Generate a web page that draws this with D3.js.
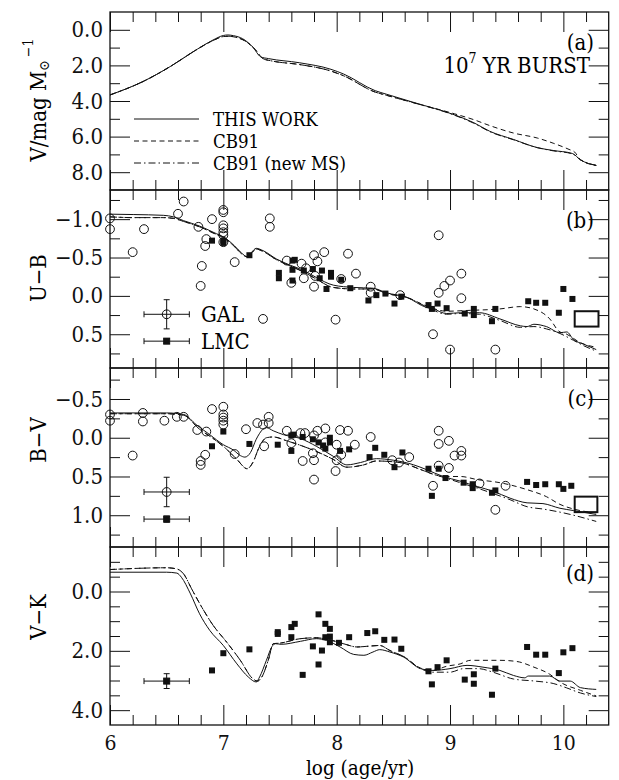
<!DOCTYPE html>
<html><head><meta charset="utf-8">
<script src="https://cdn.jsdelivr.net/npm/d3@7"></script>
<style>body{margin:0;background:#fff}</style>
</head><body>
<svg id="c" width="619" height="780"></svg>
<script>
// ---------------- DATA ----------------
const xTickLabels = [6, 7, 8, 9, 10];
const legendNames = ["THIS WORK", "CB91", "CB91 (new MS)"];

// panel (a): V / mag per solar mass
const aThis = [[6.0,3.66],[6.29,2.91],[6.53,2.07],[6.77,1.09],[6.91,0.57],[7.0,0.32],[7.04,0.29],[7.09,0.33],[7.17,0.50],[7.26,0.97],[7.33,1.52],[7.40,1.62],[7.67,1.85],[7.95,2.22],[8.06,2.48],[8.34,3.42],[8.44,3.62],[8.69,4.10],[9.04,4.78],[9.21,5.22],[9.35,5.70],[9.56,6.16],[9.77,6.62],[9.91,6.78],[10.08,6.95],[10.15,7.30],[10.29,7.62]];
const aCB91 = [[6.0,3.66],[6.29,2.91],[6.53,2.07],[6.77,1.09],[6.91,0.60],[7.0,0.38],[7.05,0.36],[7.11,0.42],[7.19,0.62],[7.28,1.10],[7.35,1.62],[7.42,1.74],[7.67,1.95],[7.95,2.32],[8.06,2.58],[8.34,3.50],[8.44,3.68],[8.69,4.12],[9.04,4.72],[9.21,5.05],[9.35,5.38],[9.56,5.80],[9.77,6.08],[9.91,6.37],[10.05,6.72],[10.10,6.87],[10.15,7.30],[10.29,7.62]];
const aNewMS = [[6.0,3.66],[6.29,2.91],[6.53,2.07],[6.77,1.09],[6.91,0.60],[7.0,0.38],[7.05,0.36],[7.11,0.42],[7.19,0.62],[7.28,1.10],[7.35,1.62],[7.42,1.74],[7.67,1.95],[7.95,2.32],[8.06,2.58],[8.34,3.50],[8.44,3.68],[8.69,4.12],[9.04,4.80],[9.21,5.25],[9.35,5.72],[9.56,6.18],[9.77,6.62],[9.91,6.80],[10.08,6.97],[10.15,7.30],[10.29,7.62]];

// panel (b): U-B
const bThis = [[6.0,-1.065],[6.21,-1.06],[6.47,-1.05],[6.56,-1.03],[6.65,-0.98],[6.79,-0.91],[6.91,-0.83],[7.03,-0.74],[7.10,-0.65],[7.16,-0.56],[7.21,-0.51],[7.25,-0.57],[7.29,-0.62],[7.35,-0.59],[7.47,-0.48],[7.59,-0.40],[7.71,-0.33],[7.82,-0.24],[7.97,-0.14],[8.15,-0.11],[8.32,-0.10],[8.44,-0.04],[8.62,0.02],[8.79,0.15],[8.85,0.17],[8.97,0.23],[9.09,0.22],[9.26,0.22],[9.44,0.30],[9.62,0.39],[9.68,0.40],[9.74,0.37],[9.85,0.40],[9.97,0.48],[10.03,0.47],[10.09,0.57],[10.18,0.63],[10.29,0.70]];
const bCB91 = [[6.0,-1.03],[6.21,-1.02],[6.47,-1.02],[6.56,-1.01],[6.65,-0.97],[6.79,-0.90],[6.91,-0.82],[7.03,-0.73],[7.10,-0.64],[7.16,-0.55],[7.21,-0.51],[7.25,-0.56],[7.29,-0.61],[7.35,-0.58],[7.47,-0.47],[7.59,-0.39],[7.71,-0.31],[7.82,-0.22],[7.97,-0.11],[8.15,-0.09],[8.32,-0.09],[8.44,-0.03],[8.62,0.02],[8.79,0.13],[8.97,0.20],[9.15,0.19],[9.44,0.17],[9.62,0.14],[9.79,0.20],[9.88,0.30],[9.96,0.46],[10.03,0.50],[10.15,0.61],[10.29,0.67]];
const bNewMS = [[6.0,-1.03],[6.21,-1.02],[6.47,-1.02],[6.56,-1.01],[6.65,-0.97],[6.79,-0.90],[6.91,-0.82],[7.03,-0.73],[7.10,-0.64],[7.16,-0.55],[7.21,-0.51],[7.25,-0.56],[7.29,-0.61],[7.35,-0.58],[7.47,-0.47],[7.59,-0.39],[7.71,-0.31],[7.82,-0.22],[7.97,-0.11],[8.15,-0.09],[8.32,-0.09],[8.44,-0.03],[8.62,0.02],[8.79,0.14],[8.97,0.24],[9.09,0.23],[9.26,0.24],[9.44,0.32],[9.62,0.41],[9.74,0.40],[9.85,0.43],[9.97,0.49],[10.09,0.58],[10.18,0.65],[10.29,0.72]];
const bGal = [[6.0,-1.01],[6.0,-0.87],[6.20,-0.57],[6.30,-0.87],[6.60,-1.07],[6.65,-1.23],[6.78,-0.90],[6.90,-1.0],[6.85,-0.74],[6.84,-0.65],[6.81,-0.39],[6.80,-0.13],[7.0,-1.12],[7.0,-1.09],[7.0,-0.92],[7.0,-0.88],[7.0,-0.83],[7.0,-0.79],[7.0,-0.70],[7.10,-0.44],[7.41,-1.01],[7.41,-0.90],[7.35,0.30],[7.56,-0.46],[7.60,-0.17],[7.69,-0.42],[7.71,-0.23],[7.73,-0.36],[7.80,-0.53],[7.83,-0.45],[7.89,-0.57],[7.80,-0.12],[7.81,-0.26],[7.99,0.31],[8.10,-0.55],[8.17,-0.29],[8.04,-0.22],[8.30,-0.12],[8.30,-0.04],[8.56,-0.01],[8.90,-0.79],[8.85,0.50],[8.90,-0.04],[8.95,-0.13],[9.0,-0.20],[9.10,-0.29],[9.10,0.03],[9.0,0.70],[9.40,0.70]];
const bLmc = [[6.90,-0.72],[7.0,-0.72],[7.0,-0.69],[7.23,-0.53],[7.49,-0.30],[7.49,-0.23],[7.61,-0.46],[7.63,-0.47],[7.61,-0.34],[7.61,-0.20],[7.71,-0.33],[7.79,-0.35],[7.85,-0.23],[7.87,-0.33],[7.95,-0.30],[7.95,-0.25],[7.91,-0.09],[8.04,-0.21],[8.12,-0.10],[8.28,0.06],[8.35,-0.01],[8.43,-0.03],[8.51,0.10],[8.57,0.01],[8.81,0.12],[8.84,0.17],[8.89,0.10],[8.97,0.16],[9.13,0.23],[9.21,0.17],[9.21,0.25],[9.37,0.33],[9.40,0.17],[9.69,0.07],[9.76,0.09],[9.84,0.09],[9.96,0.22],[10.0,-0.09],[10.08,0.04]];
const bBox = [10.10, 10.31, 0.20, 0.40];
// error bars: [x, y, xerr, yerr, kind]
const bErr = [[6.5,0.24,0.2,0.19,"gal"],[6.5,0.59,0.2,0.03,"lmc"]];

// panel (c): B-V
const cThis = [[6.0,-0.32],[6.5,-0.32],[6.65,-0.30],[6.76,-0.17],[6.88,-0.04],[7.0,0.09],[7.09,0.16],[7.15,0.23],[7.19,0.25],[7.24,0.19],[7.29,0.02],[7.35,-0.11],[7.38,-0.13],[7.44,-0.09],[7.53,-0.04],[7.68,0.01],[7.82,0.11],[7.97,0.24],[8.09,0.35],[8.21,0.32],[8.35,0.27],[8.50,0.29],[8.68,0.35],[8.79,0.41],[8.94,0.50],[9.09,0.56],[9.24,0.63],[9.38,0.69],[9.53,0.78],[9.68,0.84],[9.82,0.85],[9.97,0.91],[10.09,0.94],[10.29,0.99]];
const cCB91 = [[6.0,-0.31],[6.5,-0.31],[6.65,-0.29],[6.79,-0.11],[6.91,0.01],[7.03,0.15],[7.12,0.28],[7.21,0.40],[7.26,0.32],[7.32,0.11],[7.38,0.00],[7.44,-0.01],[7.56,0.04],[7.74,0.13],[7.97,0.28],[8.09,0.38],[8.24,0.35],[8.35,0.30],[8.56,0.32],[8.74,0.41],[8.85,0.47],[8.94,0.50],[9.09,0.50],[9.24,0.54],[9.44,0.58],[9.68,0.67],[9.85,0.76],[9.97,0.86],[10.09,0.92],[10.29,0.97]];
const cNewMS = [[6.0,-0.31],[6.5,-0.31],[6.65,-0.29],[6.79,-0.11],[6.91,0.01],[7.03,0.15],[7.12,0.28],[7.21,0.40],[7.26,0.32],[7.32,0.11],[7.38,0.00],[7.44,-0.01],[7.56,0.04],[7.74,0.13],[7.97,0.28],[8.09,0.38],[8.24,0.35],[8.35,0.30],[8.56,0.32],[8.74,0.41],[8.85,0.47],[8.94,0.51],[9.09,0.58],[9.24,0.65],[9.38,0.72],[9.53,0.80],[9.68,0.89],[9.82,0.92],[9.97,0.96],[10.09,1.0],[10.29,1.08]];
const cGal = [[6.0,-0.30],[6.0,-0.22],[6.20,0.23],[6.29,-0.32],[6.29,-0.21],[6.48,-0.22],[6.59,-0.27],[6.65,-0.27],[6.77,-0.10],[6.85,-0.08],[6.80,0.30],[6.80,0.35],[6.84,0.22],[6.90,-0.37],[7.0,-0.40],[7.0,-0.30],[7.0,-0.26],[7.0,-0.22],[7.0,-0.17],[7.10,0.21],[7.20,-0.11],[7.30,-0.19],[7.35,-0.17],[7.40,-0.27],[7.40,-0.19],[7.36,0.11],[7.56,-0.09],[7.60,0.07],[7.68,-0.06],[7.70,0.30],[7.72,-0.06],[7.80,-0.03],[7.83,-0.09],[7.90,-0.12],[7.79,0.20],[7.80,0.29],[7.80,0.54],[7.90,0.06],[8.0,0.09],[8.0,0.29],[7.99,0.43],[8.03,-0.10],[8.10,-0.09],[8.04,0.22],[8.16,0.09],[8.30,-0.01],[8.49,0.29],[8.55,0.32],[8.64,0.25],[8.90,-0.09],[8.90,0.08],[8.99,0.04],[9.04,0.23],[9.10,0.17],[9.10,0.23],[8.90,0.36],[8.99,0.39],[8.85,0.62],[9.26,0.59],[9.40,0.93],[9.49,0.62]];
const cLmc = [[6.90,0.11],[7.0,-0.08],[7.23,0.08],[7.48,0.09],[7.60,0.17],[7.60,-0.03],[7.62,-0.04],[7.70,-0.01],[7.79,0.02],[7.84,0.06],[7.88,0.10],[7.90,0.14],[7.94,0.00],[7.94,0.06],[8.03,0.17],[8.11,0.15],[8.29,0.25],[8.34,0.13],[8.42,0.22],[8.51,0.38],[8.58,0.19],[8.81,0.40],[8.90,0.40],[8.96,0.52],[8.84,0.75],[9.12,0.58],[9.20,0.60],[9.20,0.65],[9.37,0.71],[9.40,0.68],[9.68,0.57],[9.76,0.61],[9.84,0.60],[9.96,0.60],[10.0,0.66],[10.07,0.62]];
const cBox = [10.10, 10.30, 0.76, 0.96];
const cErr = [[6.5,0.70,0.2,0.19,"gal"],[6.5,1.05,0.2,0.04,"lmc"]];

// panel (d): V-K
const dThis = [[6.0,-0.65],[6.5,-0.65],[6.59,-0.62],[6.63,-0.48],[6.71,0.08],[6.79,0.75],[6.88,1.31],[7.0,1.82],[7.12,2.44],[7.22,2.88],[7.29,3.05],[7.32,2.88],[7.38,2.32],[7.43,1.85],[7.46,1.76],[7.51,1.78],[7.68,1.68],[7.82,1.59],[7.91,1.65],[8.03,1.87],[8.15,2.12],[8.24,2.15],[8.32,2.04],[8.38,1.96],[8.47,2.04],[8.59,2.21],[8.74,2.60],[8.85,2.66],[9.0,2.60],[9.15,2.49],[9.29,2.55],[9.44,2.66],[9.56,2.83],[9.66,2.91],[9.69,2.85],[9.88,2.85],[9.97,3.02],[10.06,3.02],[10.15,3.24],[10.29,3.30]];
const dCB91 = [[6.0,-0.74],[6.5,-0.80],[6.59,-0.76],[6.65,-0.59],[6.72,-0.09],[6.81,0.53],[6.91,1.14],[7.03,1.71],[7.15,2.32],[7.26,2.94],[7.30,3.02],[7.34,2.88],[7.40,2.27],[7.44,1.76],[7.50,1.74],[7.68,1.59],[7.82,1.56],[7.94,1.63],[8.06,1.76],[8.18,1.87],[8.26,1.85],[8.38,1.82],[8.47,1.99],[8.59,2.19],[8.74,2.58],[8.85,2.66],[8.97,2.52],[9.09,2.44],[9.18,2.32],[9.44,2.32],[9.59,2.36],[9.74,2.55],[9.88,2.79],[9.97,3.05],[10.15,3.33],[10.29,3.52]];
const dNewMS = [[6.0,-0.74],[6.5,-0.80],[6.59,-0.76],[6.65,-0.59],[6.72,-0.09],[6.81,0.53],[6.91,1.14],[7.03,1.71],[7.15,2.32],[7.26,2.94],[7.30,3.02],[7.34,2.88],[7.40,2.27],[7.44,1.76],[7.50,1.74],[7.68,1.59],[7.82,1.56],[7.94,1.63],[8.06,1.76],[8.18,1.87],[8.26,1.85],[8.38,1.82],[8.47,1.99],[8.59,2.19],[8.74,2.60],[8.85,2.72],[9.0,2.72],[9.12,2.60],[9.25,2.60],[9.38,2.72],[9.56,2.95],[9.75,3.02],[9.91,3.10],[10.03,3.25],[10.15,3.42],[10.29,3.54]];
const dLmc = [[6.90,2.66],[7.0,2.08],[7.23,1.95],[7.48,1.43],[7.48,1.37],[7.60,1.20],[7.60,1.54],[7.63,1.09],[7.70,2.81],[7.79,1.85],[7.84,0.77],[7.84,2.46],[7.87,1.99],[7.90,1.09],[7.94,1.26],[7.90,1.54],[7.94,1.52],[7.94,1.71],[8.02,1.73],[8.11,1.54],[8.27,1.40],[8.34,1.34],[8.42,1.63],[8.51,1.62],[8.57,1.93],[8.81,2.69],[8.84,3.13],[8.89,2.55],[8.97,2.32],[9.13,2.97],[9.21,2.79],[9.21,3.11],[9.37,3.48],[9.40,2.60],[9.68,1.87],[9.76,2.13],[9.84,2.13],[9.96,2.75],[10.0,2.05],[10.08,1.91]];
const dErr = [[6.5,3.02,0.2,0.25,"lmc"]];

// ---------------- DRAWING ----------------
const FONT = '"DejaVu Serif Condensed","DejaVu Serif","Liberation Serif",serif';
const FS = 22;
const svg = d3.select("#c").style("font-family", FONT);
const XL = 110, XR = 608.7;
const x = d3.scaleLinear().domain([6, 10.4]).range([XL, XR]);

const panels = [
  {key:"a", top:12,  bot:190, dom:[-1,9],        majors:[0,2,4,6,8],        minors:[1,3,5,7],                         tag:"(a)", tagY:50,
   title:"V/mag", tcy:100, lines:[aThis,aCB91,aNewMS], gal:null, lmc:null, box:null, err:[]},
  {key:"b", top:190, bot:368, dom:[-1.38,0.94],  majors:[-1,-0.5,0,0.5],    minors:[-1.25,-0.75,-0.25,0.25,0.75],      tag:"(b)", tagY:228,
   title:"U\u2212B", tcy:278, lines:[bThis,bCB91,bNewMS], gal:bGal, lmc:bLmc, box:bBox, err:bErr},
  {key:"c", top:368, bot:547, dom:[-0.9,1.41],   majors:[-0.5,0,0.5,1.0],   minors:[-0.75,-0.25,0.25,0.75,1.25],       tag:"(c)", tagY:406,
   title:"B\u2212V", tcy:440, lines:[cThis,cCB91,cNewMS], gal:cGal, lmc:cLmc, box:cBox, err:cErr},
  {key:"d", top:547, bot:725, dom:[-1.5,4.5],    majors:[0,2,4],            minors:[-1,-0.5,0.5,1,1.5,2.5,3,3.5],      tag:"(d)", tagY:581,
   title:"V\u2212K", tcy:617, lines:[dThis,dCB91,dNewMS], gal:null, lmc:dLmc, box:null, err:dErr}
];
const dashes = [null, "5,3.5", "7,3,1.5,3"];
const xMajors = xTickLabels;
const xMinors = d3.range(6.2, 10.4, 0.2).filter(v => Math.abs(v - Math.round(v)) > 0.05);
const fmt = d3.format(".1f");

function styleAxis(g, fs) {
  g.select(".domain").remove();
  g.selectAll("line").attr("stroke", "#111").attr("stroke-width", 1);
  g.selectAll("text").attr("font-family", FONT).attr("font-size", fs || FS).attr("fill", "#111");
}

panels.forEach((p, i) => {
  const y = d3.scaleLinear().domain(p.dom).range([p.top, p.bot]);
  const g = svg.append("g");
  const clipId = "clip" + p.key;
  svg.append("clipPath").attr("id", clipId).append("rect")
    .attr("x", XL).attr("y", p.top).attr("width", XR - XL).attr("height", p.bot - p.top);

  // y axes
  g.append("g").attr("transform", `translate(${XL},0)`)
    .call(d3.axisLeft(y).tickValues(p.majors).tickSize(-20).tickPadding(7).tickFormat(fmt)).call(styleAxis);
  g.append("g").attr("transform", `translate(${XL},0)`)
    .call(d3.axisLeft(y).tickValues(p.minors).tickSize(-10).tickFormat("")).call(styleAxis);
  g.append("g").attr("transform", `translate(${XR},0)`)
    .call(d3.axisRight(y).tickValues(p.majors).tickSize(-20).tickFormat("")).call(styleAxis);
  g.append("g").attr("transform", `translate(${XR},0)`)
    .call(d3.axisRight(y).tickValues(p.minors).tickSize(-10).tickFormat("")).call(styleAxis);
  // x axes
  g.append("g").attr("transform", `translate(0,${p.top})`)
    .call(d3.axisTop(x).tickValues(xMajors).tickSize(-20).tickFormat("")).call(styleAxis);
  g.append("g").attr("transform", `translate(0,${p.top})`)
    .call(d3.axisTop(x).tickValues(xMinors).tickSize(-10).tickFormat("")).call(styleAxis);
  g.append("g").attr("transform", `translate(0,${p.bot})`)
    .call(d3.axisBottom(x).tickValues(xMajors).tickSize(-20).tickPadding(10)
      .tickFormat(i === 3 ? d3.format("d") : "")).call(g2 => styleAxis(g2, 21));
  g.append("g").attr("transform", `translate(0,${p.bot})`)
    .call(d3.axisBottom(x).tickValues(xMinors).tickSize(-10).tickFormat("")).call(styleAxis);

  // frame
  g.append("rect").attr("x", XL).attr("y", p.top).attr("width", XR - XL).attr("height", p.bot - p.top)
    .attr("fill", "none").attr("stroke", "#111").attr("stroke-width", 1.3);

  // model lines
  const line = d3.line().x(d => x(d[0])).y(d => y(d[1])).curve(d3.curveMonotoneX);
  const lg = g.append("g").attr("clip-path", `url(#${clipId})`);
  p.lines.forEach((L, k) => {
    lg.append("path").attr("d", line(L)).attr("fill", "none").attr("stroke", "#111")
      .attr("stroke-width", 1).attr("stroke-dasharray", dashes[k]);
  });

  // box
  if (p.box) {
    g.append("rect").attr("x", x(p.box[0])).attr("y", y(p.box[2]))
      .attr("width", x(p.box[1]) - x(p.box[0])).attr("height", y(p.box[3]) - y(p.box[2]))
      .attr("fill", "none").attr("stroke", "#111").attr("stroke-width", 2);
  }
  // data
  if (p.gal) {
    g.append("g").selectAll("circle").data(p.gal).join("circle")
      .attr("cx", d => x(d[0])).attr("cy", d => y(d[1])).attr("r", 4.4)
      .attr("fill", "none").attr("stroke", "#111").attr("stroke-width", 1);
  }
  if (p.lmc) {
    g.append("g").selectAll("rect").data(p.lmc).join("rect")
      .attr("x", d => x(d[0]) - 3).attr("y", d => y(d[1]) - 3).attr("width", 6).attr("height", 6)
      .attr("fill", "#111");
  }
  // error bars
  p.err.forEach(e => {
    const eg = g.append("g").attr("stroke", "#111").attr("stroke-width", 1);
    const cx = x(e[0]), cy = y(e[1]);
    const x0 = x(e[0] - e[2]), x1 = x(e[0] + e[2]);
    const y0 = y(e[1] - e[3]), y1 = y(e[1] + e[3]);
    eg.append("line").attr("x1", x0).attr("x2", x1).attr("y1", cy).attr("y2", cy);
    eg.append("line").attr("x1", x0).attr("x2", x0).attr("y1", cy - 3).attr("y2", cy + 3);
    eg.append("line").attr("x1", x1).attr("x2", x1).attr("y1", cy - 3).attr("y2", cy + 3);
    eg.append("line").attr("x1", cx).attr("x2", cx).attr("y1", y0).attr("y2", y1);
    eg.append("line").attr("x1", cx - 3).attr("x2", cx + 3).attr("y1", y0).attr("y2", y0);
    eg.append("line").attr("x1", cx - 3).attr("x2", cx + 3).attr("y1", y1).attr("y2", y1);
    if (e[4] === "gal") eg.append("circle").attr("cx", cx).attr("cy", cy).attr("r", 4.4).attr("fill", "none");
    else eg.append("rect").attr("x", cx - 3).attr("y", cy - 3).attr("width", 6).attr("height", 6).attr("fill", "#111");
  });
  if (p.key === "b") {
    g.append("text").attr("x", 201).attr("y", y(bErr[0][1]) + 8).attr("font-size", FS).text("GAL");
    g.append("text").attr("x", 201).attr("y", y(bErr[1][1]) + 8).attr("font-size", FS).text("LMC");
  }

  // panel tag
  g.append("text").attr("x", 594).attr("y", p.tagY).attr("text-anchor", "end").attr("font-size", FS).text(p.tag);

  // y title
  const t = g.append("text").attr("transform", `translate(40,${p.tcy}) rotate(-90)`)
    .attr("text-anchor", "middle").attr("dominant-baseline", "middle").attr("font-size", FS);
  if (i === 0) {
    t.append("tspan").text("V/mag M");
    t.append("tspan").attr("font-size", 14).attr("dy", 5).text("\u2299");
    t.append("tspan").attr("font-size", 14).attr("dy", -16).attr("dx", 3).text("\u22121");
  } else {
    t.text(p.title);
  }
});

// panel (a) legend and burst label
const legY = [119, 141, 163];
legendNames.forEach((n, k) => {
  svg.append("line").attr("x1", 134).attr("x2", 199).attr("y1", legY[k]).attr("y2", legY[k])
    .attr("stroke", "#111").attr("stroke-width", 1).attr("stroke-dasharray", dashes[k]);
  svg.append("text").attr("x", 213).attr("y", legY[k] + 7).attr("font-size", 18.5).text(n);
});
const bt = svg.append("text").attr("x", 590).attr("y", 73).attr("text-anchor", "end").attr("font-size", FS);
bt.append("tspan").text("10");
bt.append("tspan").attr("font-size", 14).attr("dy", -10).text("7");
bt.append("tspan").attr("dy", 10).text(" YR BURST");

// x title
svg.append("text").attr("x", 360).attr("y", 774.5).attr("text-anchor", "middle").attr("font-size", 20.5)
  .text("log (age/yr)");
</script>
</body></html>
